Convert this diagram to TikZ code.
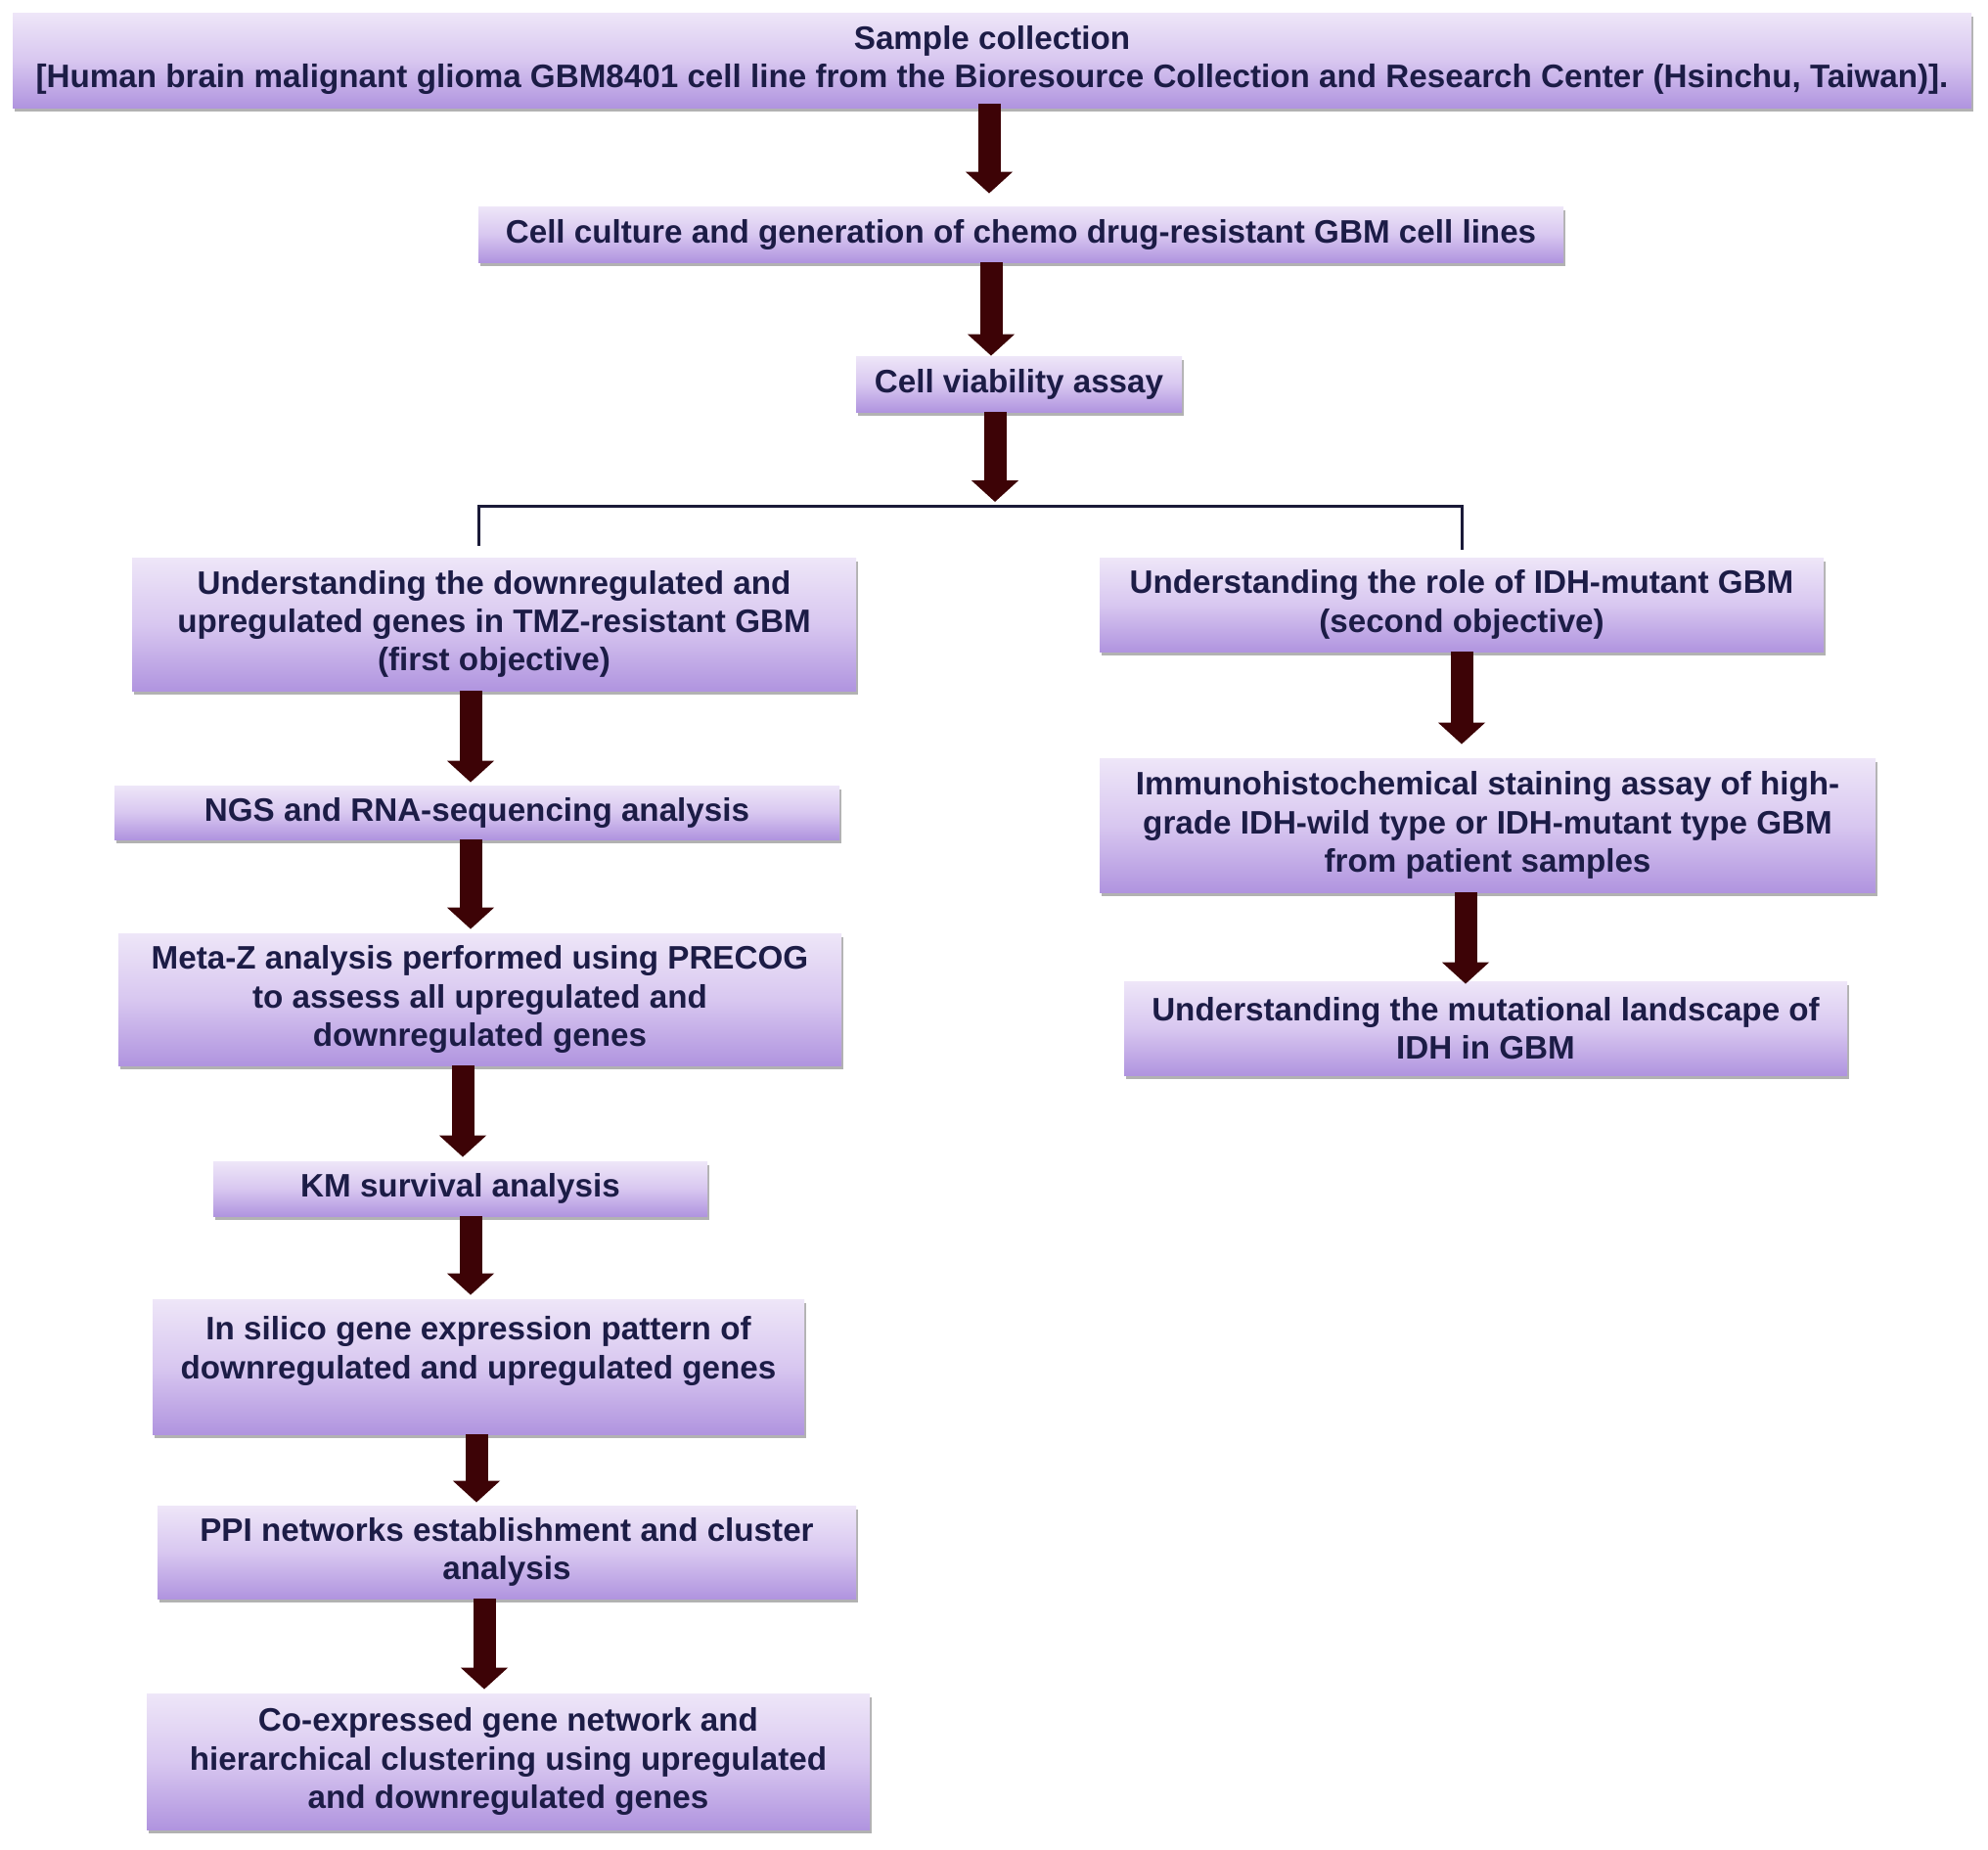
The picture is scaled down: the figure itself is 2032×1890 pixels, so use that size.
\documentclass[tikz,border=0pt]{standalone}
\usepackage{fontspec}
\setmainfont{Liberation Sans}
\usetikzlibrary{arrows.meta,shadows}
\definecolor{boxtop}{HTML}{EEE6F8}
\definecolor{boxmid}{HTML}{D8C7F0}
\definecolor{boxbot}{HTML}{B094DF}
\definecolor{txt}{HTML}{1C1C46}
\definecolor{arr}{HTML}{3D0306}
\definecolor{lncol}{HTML}{1A1A38}
\newcommand\boxfont{\fontsize{16.6}{19.6}\selectfont\bfseries}
\begin{document}
\begin{tikzpicture}[x=0.5pt,y=-0.5pt,
  boxst/.style={rectangle, inner sep=0pt, align=center, text=txt, font=\boxfont,
    top color=boxtop, bottom color=boxbot, middle color=boxmid,
    drop shadow={shadow xshift=1.2pt, shadow yshift=-2.2pt, fill=black, opacity=0.3}},
  bigarrow/.style={draw=arr, line width=11.5pt, -{Triangle[width=23.5pt,length=11pt]}},
  conn/.style={draw=lncol, line width=1.5pt}]
\useasboundingbox[fill=white] (0,0) rectangle (2032,1890);

\node[boxst, minimum width=1001pt, minimum height=48.5pt] (b1) at (1014,61.5)
  {Sample collection\\ {[}Human brain malignant glioma GBM8401 cell line from the Bioresource Collection and Research Center (Hsinchu, Taiwan)].};
\node[boxst, minimum width=554.5pt, minimum height=28.5pt] (b2) at (1043.5,239.5)
  {Cell culture and generation of chemo drug-resistant GBM cell lines};
\node[boxst, minimum width=166.5pt, minimum height=28.5pt] (b3) at (1041.5,392.5)
  {Cell viability assay};
\node[boxst, minimum width=370pt, minimum height=68pt] (b4) at (505,638)
  {Understanding the downregulated and\\upregulated genes in TMZ-resistant GBM\\(first objective)};
\node[boxst, minimum width=370.5pt, minimum height=27.5pt] (b5) at (487.5,830.5)
  {NGS and RNA-sequencing analysis};
\node[boxst, minimum width=369.5pt, minimum height=67.5pt] (b6) at (490.5,1021.5)
  {Meta-Z analysis performed using PRECOG\\to assess all upregulated and\\downregulated genes};
\node[boxst, minimum width=252.5pt, minimum height=28pt] (b7) at (470.5,1215)
  {KM survival analysis};
\node[boxst, minimum width=333pt, minimum height=69pt] (b8) at (489,1397)
  {In silico gene expression pattern of\\downregulated and upregulated genes\\ ~};
\node[boxst, minimum width=357pt, minimum height=47.5pt] (b9) at (518,1586.5)
  {PPI networks establishment and cluster\\analysis};
\node[boxst, minimum width=369.5pt, minimum height=69.5pt] (b10) at (519.5,1800.5)
  {Co-expressed gene network and\\hierarchical clustering using upregulated\\and downregulated genes};
\node[boxst, minimum width=370pt, minimum height=48pt] (b11) at (1494,618)
  {Understanding the role of IDH-mutant GBM\\(second objective)};
\node[boxst, minimum width=396.5pt, minimum height=68.5pt] (b12) at (1520.5,843.5)
  {Immunohistochemical staining assay of high-\\grade IDH-wild type or IDH-mutant type GBM\\from patient samples};
\node[boxst, minimum width=369.5pt, minimum height=48pt] (b13) at (1518.5,1051)
  {Understanding the mutational landscape of\\IDH in GBM};

\coordinate (a1) at (1011,0);
\coordinate (a2) at (1013,0);
\coordinate (a3) at (1017,0);
\coordinate (a4) at (481,0);
\coordinate (a5) at (481,0);
\coordinate (a6) at (473,0);
\coordinate (a7) at (481,0);
\coordinate (a8) at (487,0);
\coordinate (a9) at (495,0);
\coordinate (a10) at (1494,0);
\coordinate (a11) at (1498,0);
\coordinate (hl) at (489,517);
\coordinate (hr) at (1494,517);

\draw[conn] ([yshift=6pt]b4.north -| hl) -- (hl) -- (hr) -- ([yshift=4pt]b11.north -| hr);

\draw[bigarrow, shorten >=6.5pt] ([yshift=2pt]b1.south -| a1) -- (b2.north -| a1);
\draw[bigarrow] (b2.south -| a2) -- (b3.north -| a2);
\draw[bigarrow, shorten >=2pt] (b3.south -| a3) -- (a3 |- hl);
\draw[bigarrow, shorten >=1.5pt] (b4.south -| a4) -- (b5.north -| a4);
\draw[bigarrow, shorten >=2pt] (b5.south -| a5) -- (b6.north -| a5);
\draw[bigarrow, shorten >=2pt] (b6.south -| a6) -- (b7.north -| a6);
\draw[bigarrow, shorten >=2pt] (b7.south -| a7) -- (b8.north -| a7);
\draw[bigarrow, shorten >=1.5pt] (b8.south -| a8) -- (b9.north -| a8);
\draw[bigarrow, shorten >=2pt] (b9.south -| a9) -- (b10.north -| a9);
\draw[bigarrow, shorten >=7pt] (b11.south -| a10) -- (b12.north -| a10);
\draw[bigarrow, shorten >=-1.5pt] (b12.south -| a11) -- (b13.north -| a11);
\end{tikzpicture}
\end{document}
